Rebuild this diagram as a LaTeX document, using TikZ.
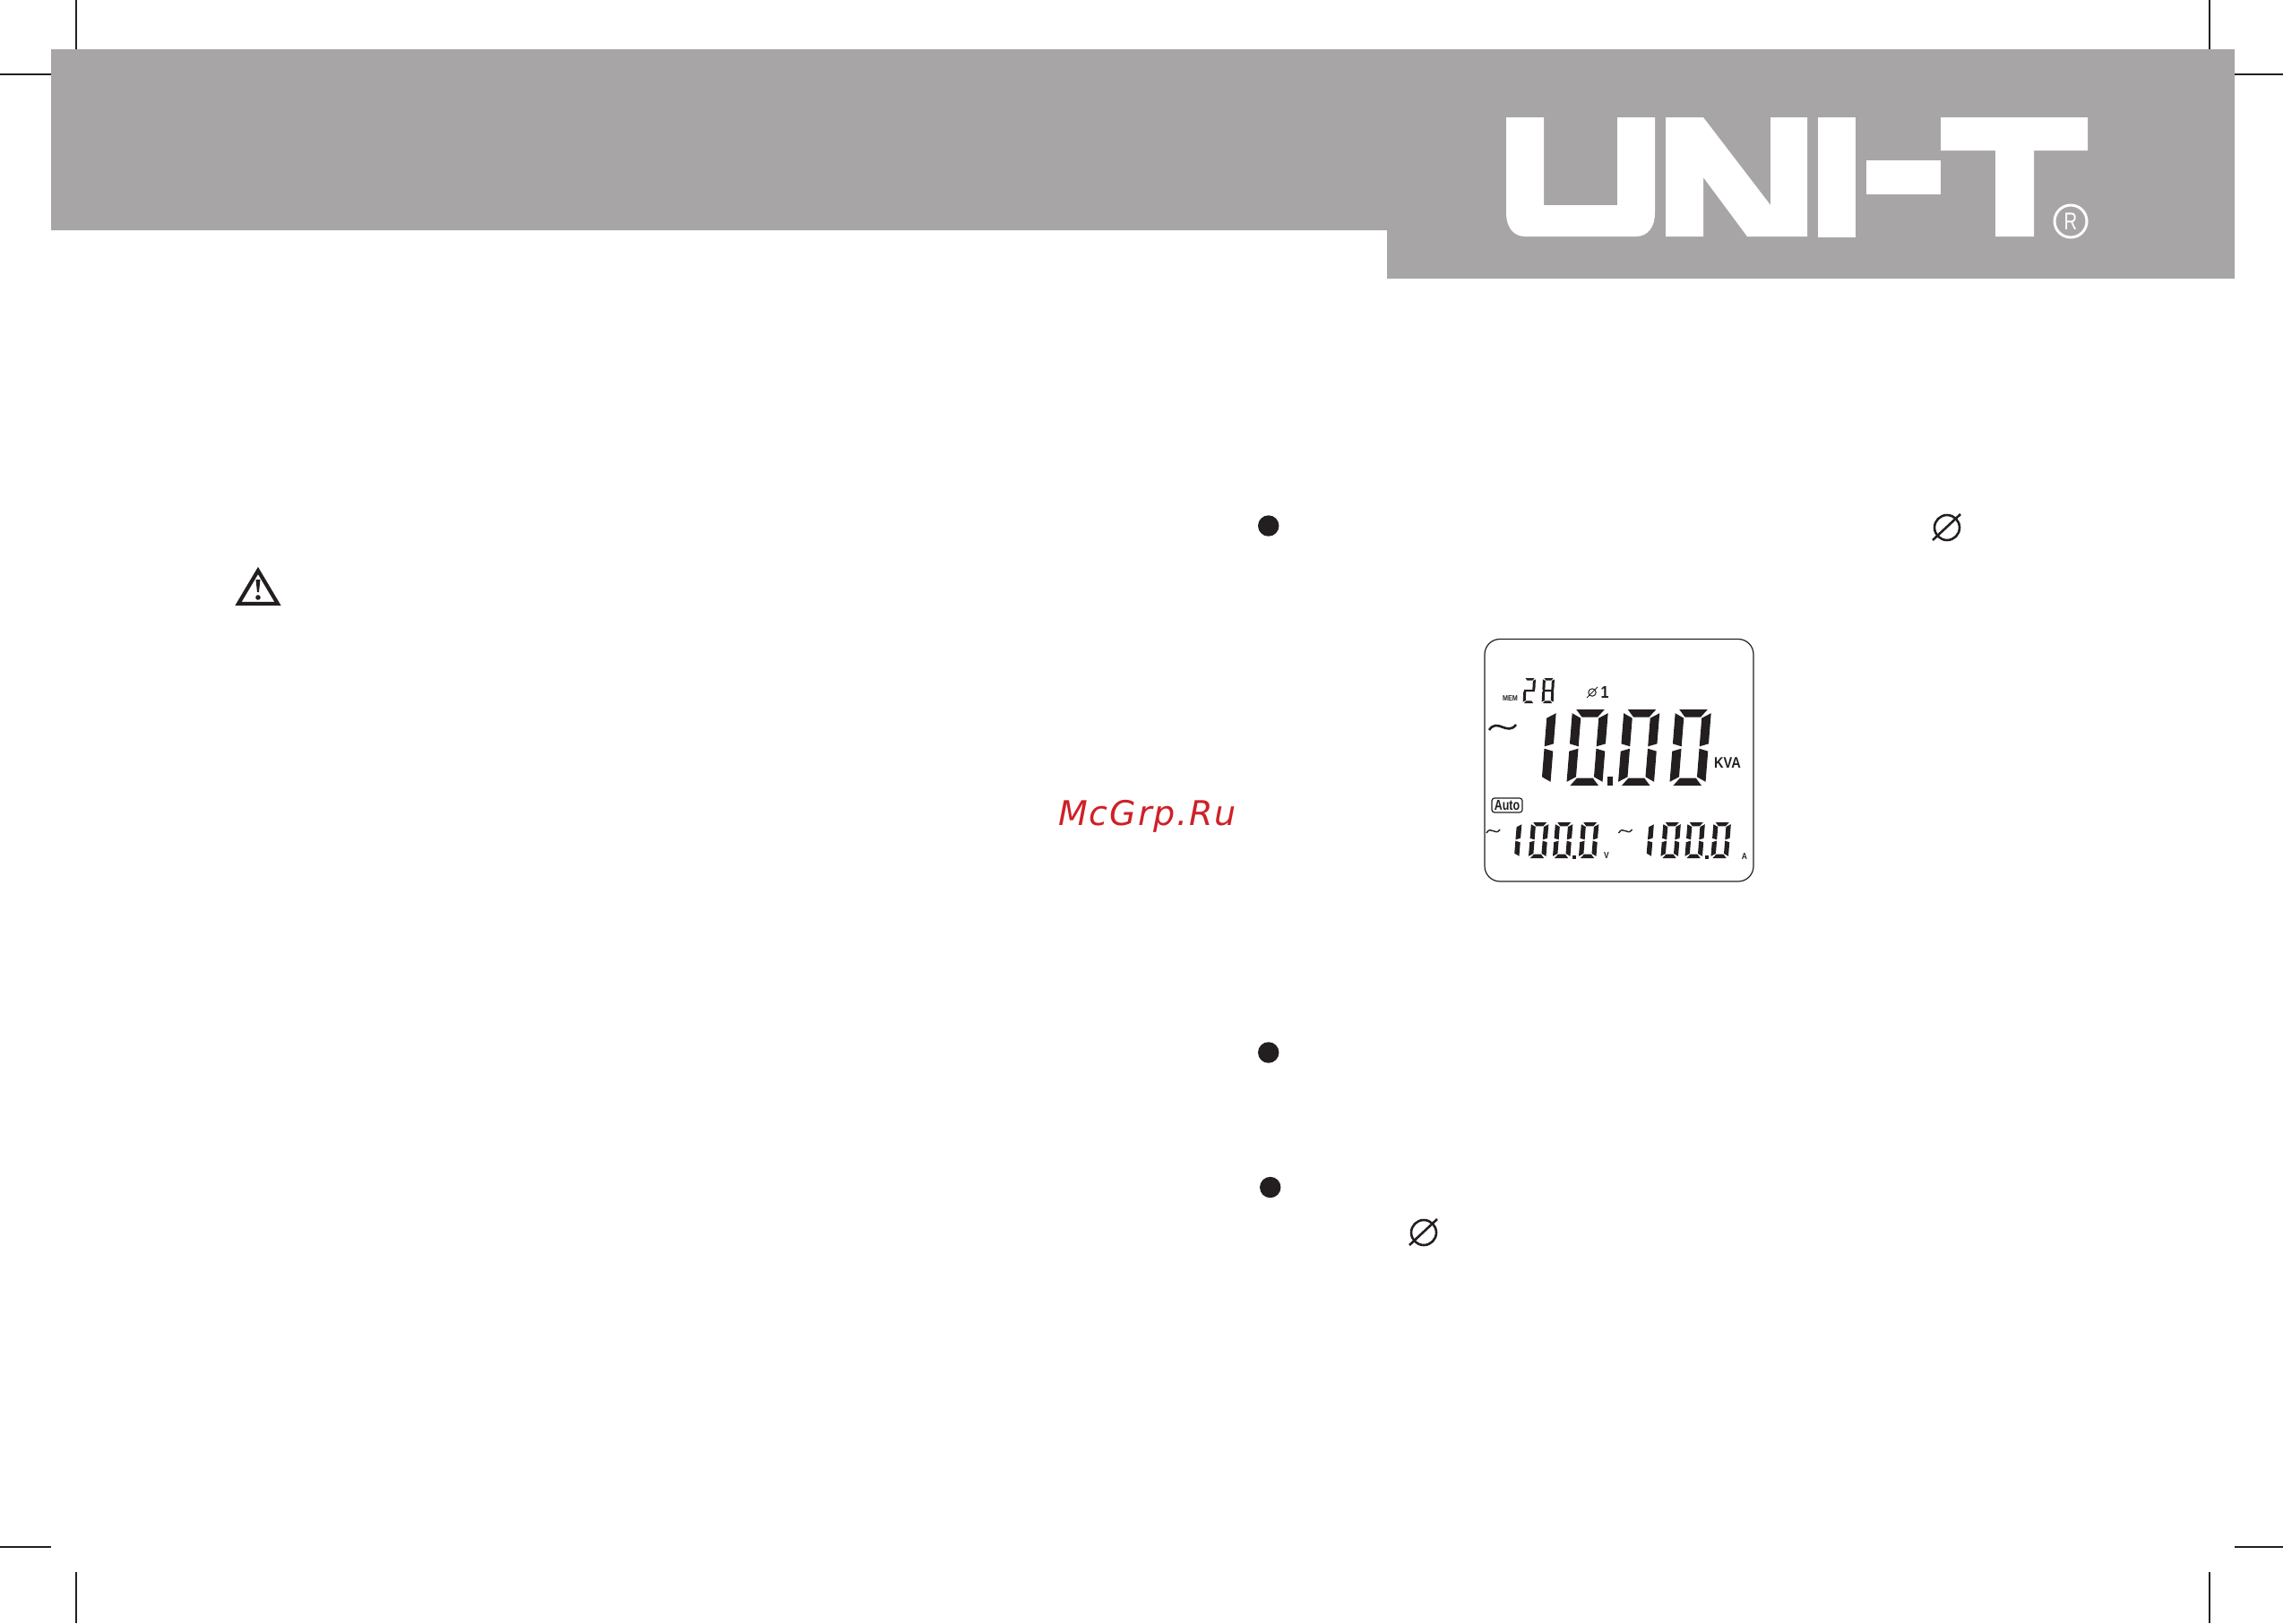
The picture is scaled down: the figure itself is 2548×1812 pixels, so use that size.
\documentclass[tikz,border=0pt]{standalone}
\usepackage{fontspec}
\usepackage{color}
\setmainfont{Liberation Sans}
\newfontfamily\stampfont[LetterSpace=5]{DejaVu Sans}
\definecolor{bandgray}{HTML}{A7A5A6}
\definecolor{inkblack}{HTML}{231F20}
\definecolor{stampred}{HTML}{CF2027}
% segments of one lcd digit: top-left corner is the origin, \segs says which are lit
\newcommand{\lcddigit}[6]{%
  \begin{scope}[shift={(#1,#2)},xslant=#6]
    \pgfmathsetmacro{\dw}{#3}\pgfmathsetmacro{\dh}{#4}\pgfmathsetmacro{\dt}{#5}
    \pgfmathsetmacro{\dg}{max(0.5,\dt*0.12)}
    \pgfmathsetmacro{\dm}{\dh/2}
    \foreach \seg in \segs {
      \ifnum\seg=1 \fill[inkblack] (\dg+\dt*0.3,0) -- (\dw-\dg-\dt*0.3,0) -- (\dw-\dt-\dg,\dt*0.85) -- (\dt+\dg,\dt*0.85) -- cycle; \fi
      \ifnum\seg=2 \fill[inkblack] (\dw,\dg+\dt*0.3) -- (\dw,\dm-\dg-\dt*0.3) -- (\dw-\dt,\dm-\dg) -- (\dw-\dt,\dt*0.85+\dg) -- cycle; \fi
      \ifnum\seg=3 \fill[inkblack] (\dw,\dm+\dg+\dt*0.3) -- (\dw,\dh-\dg-\dt*0.3) -- (\dw-\dt,\dh-\dt*0.85-\dg) -- (\dw-\dt,\dm+\dg) -- cycle; \fi
      \ifnum\seg=4 \fill[inkblack] (\dg+\dt*0.3,\dh) -- (\dw-\dg-\dt*0.3,\dh) -- (\dw-\dt-\dg,\dh-\dt*0.85) -- (\dt+\dg,\dh-\dt*0.85) -- cycle; \fi
      \ifnum\seg=5 \fill[inkblack] (0,\dm+\dg+\dt*0.3) -- (0,\dh-\dg-\dt*0.3) -- (\dt,\dh-\dt*0.85-\dg) -- (\dt,\dm+\dg) -- cycle; \fi
      \ifnum\seg=6 \fill[inkblack] (0,\dg+\dt*0.3) -- (0,\dm-\dg-\dt*0.3) -- (\dt,\dm-\dg) -- (\dt,\dt*0.85+\dg) -- cycle; \fi
      \ifnum\seg=7 \fill[inkblack] (\dg,\dm-\dt*0.4) -- (\dw-\dg,\dm-\dt*0.4) -- (\dw-\dg,\dm+\dt*0.4) -- (\dg,\dm+\dt*0.4) -- cycle; \fi
    }
  \end{scope}}
\newcommand{\lcdzero}[6]{\def\segs{1,2,3,4,5,6}\lcddigit{#1}{#2}{#3}{#4}{#5}{#6}}
\newcommand{\lcdone}[6]{\def\segs{2,3}\lcddigit{#1}{#2}{#3}{#4}{#5}{#6}}

\begin{document}
\begin{tikzpicture}[x=1pt,y=-1pt]
    \tikzstyle{crop} = [line width=2.1pt, inkblack]
    \tikzstyle{band} = [fill=bandgray]
    \tikzstyle{logo} = [fill=white]
    \tikzstyle{phi} = [line width=2.6pt, inkblack]
    \tikzstyle{lcdlabel} = [inner sep=0pt, text=inkblack, font=\bfseries]
    \useasboundingbox (0,0) rectangle (2548,1812);

    % header band
    \fill [band] (57,55) -- (2494,55) -- (2494,311) -- (1548,311) -- (1548,257) -- (57,257) -- cycle;

    % crop marks
    \foreach \mx in {85,2466} {
        \draw [crop] (\mx,0) -- (\mx,55);
        \draw [crop] (\mx,1755) -- (\mx,1812);
    }
    \foreach \my in {83,1727} {
        \draw [crop] (0,\my) -- (57,\my);
        \draw [crop] (2494,\my) -- (2548,\my);
    }

    % logo
    \fill [logo] (1681,131) -- (1723,131) -- (1723,229) -- (1805,229) -- (1805,131) -- (1847,131) -- (1847,238) .. controls (1847,252) and (1840,264) .. (1826,264) -- (1702,264) .. controls (1688,264) and (1681,252) .. (1681,238) -- cycle;
    \fill [logo] (1859,131) -- (1901,131) -- (1976,229) -- (1976,131) -- (2017,131) -- (2017,264) -- (1950,264) -- (1901,198) -- (1901,264) -- (1859,264) -- cycle;
    \fill [logo] (2029,131) rectangle (2071,265);
    \fill [logo] (2083,179) rectangle (2166,217);
    \fill [logo] (2166,131) -- (2330,131) -- (2330,168) -- (2270,168) -- (2270,264) -- (2227,264) -- (2227,168) -- (2166,168) -- cycle;
    \draw [white, line width=3pt] (2311,247) circle (18);
    \node (regmark) [inner sep=0pt, text=white, xscale=.75, font=\fontsize{27}{27}\selectfont] at (2311,247) {R};

    % warning triangle
    \draw [inkblack, line width=4.2pt, line join=miter] (288,637) -- (310,674) -- (266,674) -- cycle;
    \fill [inkblack] (285.5,647) -- (290.5,647) -- (289,661) -- (287,661) -- cycle;
    \fill [inkblack] (288,667) circle (2.8);

    % bullets
    \foreach \bx/\by in {1415.7/587,1415.7/1175,1417.7/1325.5}
        \fill [inkblack] (\bx,\by) circle (11.7);

    % phase signs
    \foreach \px/\py in {2173/589,1589/1376} {
        \draw [phi] (\px,\py) circle (14);
        \draw [phi] (\px-16,\py+14) -- (\px+15,\py-15);
    }

    % lcd frame
    \draw [inkblack, line width=1.2pt, rounded corners=17pt] (1657,713.5) rectangle (1957,984);

    % memory row
    \node (mem) [lcdlabel, xscale=.85, font=\bfseries\fontsize{8.5}{9}\selectfont] at (1685.5,779.5) {MEM};
    \def\segs{1,2,7,5,4}\lcddigit{1701}{757}{13}{28}{3}{0.05}
    \def\segs{1,2,3,4,5,6,7}\lcddigit{1722}{757}{13}{28}{3}{0.05}
    \draw [inkblack, line width=1pt] (1777,773) circle (4.2);
    \draw [inkblack, line width=1pt] (1771,779) -- (1783,767);
    \node (phase) [lcdlabel, xscale=.85, font=\bfseries\fontsize{19}{20}\selectfont] at (1791,773) {1};

    % main reading
    \draw [inkblack, line width=2.6pt] (1662,815) .. controls (1671,801) and (1682,822) .. (1692,809);
    \lcdone{1705}{792}{32}{85}{10}{0.08}
    \lcdzero{1755}{792}{40}{85}{10}{0.08}
    \fill [inkblack] (1793.5,867) rectangle (1800,877);
    \lcdzero{1812.5}{792}{40}{85}{10}{0.08}
    \lcdzero{1870}{792}{40}{85}{10}{0.08}
    \node (kva) [lcdlabel, xscale=.86, font=\bfseries\fontsize{17}{18}\selectfont] at (1928,852) {KVA};

    % auto mode
    \draw [inkblack, line width=1.2pt, rounded corners=3pt] (1665,891) rectangle (1699,907);
    \node (auto) [lcdlabel, xscale=.78, font=\bfseries\fontsize{16}{17}\selectfont] at (1682,899) {Auto};

    % lower readings
    \foreach \ox in {0,147.5} {
        \draw [inkblack, line width=1.4pt] (1659+\ox,930) .. controls (1664+\ox,921) and (1669+\ox,934) .. (1674+\ox,926);
        \lcdone{1673+\ox}{918}{25.5}{40}{5.5}{0.08}
        \lcdzero{1709+\ox}{918}{19.5}{40}{5.2}{0.08}
        \lcdzero{1736+\ox}{918}{19.5}{40}{5.2}{0.08}
        \fill [inkblack] (1755+\ox,955) rectangle (1759+\ox,959);
        \lcdzero{1765+\ox}{918}{19.5}{40}{5.2}{0.08}
    }
    \node (volt) [lcdlabel, xscale=.85, font=\bfseries\fontsize{10}{11}\selectfont] at (1793,955) {V};
    \node (amp) [lcdlabel, xscale=.85, font=\bfseries\fontsize{10}{11}\selectfont] at (1947,956) {A};

    % red stamp
    \node (stamp) [anchor=base west, inner sep=0pt, text=stampred, font=\stampfont\itshape\fontsize{38}{40}\selectfont] at (1181,921) {McGrp.Ru};
\end{tikzpicture}
\end{document}
